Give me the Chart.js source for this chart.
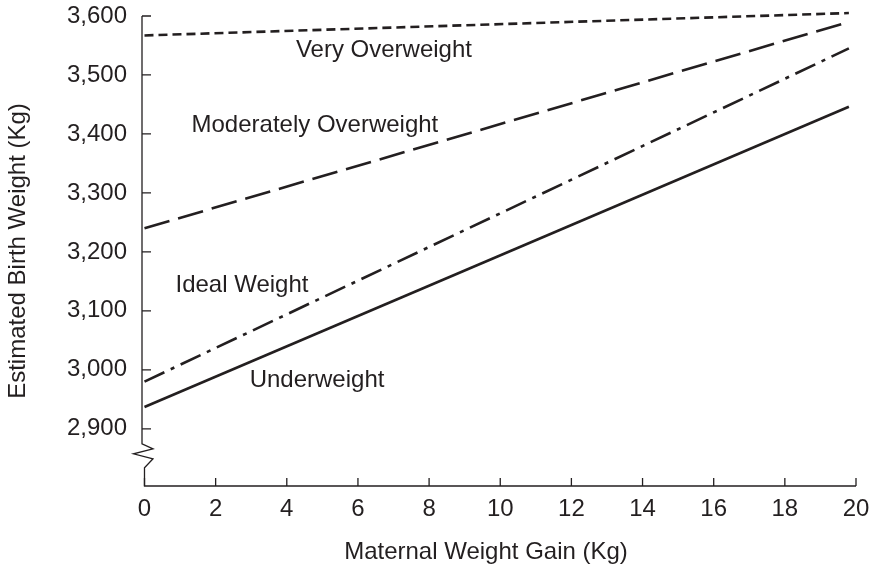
<!DOCTYPE html>
<html>
<head>
<meta charset="utf-8">
<script src="https://cdn.jsdelivr.net/npm/chart.js@4/dist/chart.umd.min.js"></script>
<style>
  html, body { margin: 0; padding: 0; background: #fff; }
  #wrap { width: 873px; height: 566px; }
</style>
</head>
<body>
<div id="wrap"><canvas id="chart" width="873" height="566"></canvas></div>
<script>
// Chart values
const weightGain = [0, 19.8];
const veryOverweight = [3567, 3605];
const moderatelyOverweight = [3240, 3590];
const idealWeight = [2980, 3545];
const underweight = [2937, 3446];

const seriesNames = ['Very Overweight', 'Moderately Overweight', 'Ideal Weight', 'Underweight'];
const xTickValues = [0, 2, 4, 6, 8, 10, 12, 14, 16, 18, 20];
const yTickValues = [2900, 3000, 3100, 3200, 3300, 3400, 3500, 3600];

// where each series name sits (data units: x centre, y baseline)
const labelAnchors = [
    { x: 6.73, y: 3530 },
    { x: 4.79, y: 3403 },
    { x: 2.74, y: 3132 },
    { x: 4.85, y: 2971 }
];

const INK = '#231f20';
const FONT = '"Liberation Sans", Arial, Helvetica, sans-serif';
const FONT_SIZE = 24;

function toPoints(values) {
    return weightGain.map((x, i) => ({ x: x, y: values[i] }));
}

function lineSet(label, values, dash) {
    return {
        label: label,
        data: toPoints(values),
        borderColor: INK,
        borderWidth: 2.6,
        borderDash: dash,
        pointRadius: 0,
        fill: false,
        tension: 0,
        clip: false
    };
}

// Axis lines, inward ticks, the axis break, x title and series names
const axesPlugin = {
    id: 'axesPlugin',
    afterDraw(chart) {
        const ctx = chart.ctx;
        const xs = chart.scales.x;
        const ys = chart.scales.y;
        const area = chart.chartArea;
        const left = area.left;
        const bottom = area.bottom;
        const x0 = xs.getPixelForValue(0);
        const yTop = ys.getPixelForValue(3600);
        const yLow = ys.getPixelForValue(2900);

        ctx.save();
        ctx.strokeStyle = INK;
        ctx.lineWidth = 1.3;
        ctx.setLineDash([]);

        // y axis with break
        ctx.beginPath();
        ctx.moveTo(left, yTop);
        ctx.lineTo(left, yLow + 15);
        ctx.lineTo(left + 11, yLow + 20);
        ctx.lineTo(left - 8.5, yLow + 25);
        ctx.lineTo(left + 11, yLow + 30);
        ctx.lineTo(x0, yLow + 39);
        ctx.lineTo(x0, bottom);
        // x axis
        ctx.lineTo(xs.getPixelForValue(20), bottom);
        ctx.stroke();

        // inward ticks
        ctx.beginPath();
        yTickValues.forEach(v => {
            const p = ys.getPixelForValue(v);
            ctx.moveTo(left, p);
            ctx.lineTo(left + 9, p);
        });
        xTickValues.forEach(v => {
            const p = xs.getPixelForValue(v);
            ctx.moveTo(p, bottom);
            ctx.lineTo(p, bottom - 8);
        });
        ctx.stroke();

        ctx.fillStyle = INK;
        ctx.font = FONT_SIZE + 'px ' + FONT;
        ctx.textAlign = 'center';
        ctx.textBaseline = 'alphabetic';

        // x axis title
        ctx.fillText('Maternal Weight Gain (Kg)', xs.getPixelForValue(9.6), bottom + 73);

        // series names
        seriesNames.forEach((name, i) => {
            const a = labelAnchors[i];
            ctx.fillText(name, xs.getPixelForValue(a.x), ys.getPixelForValue(a.y));
        });
        ctx.restore();
    }
};

const ctx = document.getElementById('chart').getContext('2d');
new Chart(ctx, {
    type: 'line',
    data: {
        datasets: [
            lineSet(seriesNames[0], veryOverweight, [9, 5]),
            lineSet(seriesNames[1], moderatelyOverweight, [26, 9]),
            lineSet(seriesNames[2], idealWeight, [22, 7, 4, 7]),
            lineSet(seriesNames[3], underweight, [])
        ]
    },
    options: {
        responsive: false,
        animation: false,
        layout: { padding: { top: 16, right: 17, bottom: 0, left: 0 } },
        plugins: {
            legend: { display: false },
            tooltip: { enabled: false }
        },
        scales: {
            x: {
                type: 'linear',
                min: -0.07,
                max: 20,
                afterBuildTicks: s => { s.ticks = xTickValues.map(v => ({ value: v })); },
                afterFit: s => { s.height = 80; },
                grid: { display: false },
                border: { display: false },
                ticks: {
                    color: INK,
                    font: { family: FONT, size: FONT_SIZE },
                    padding: 1,
                    maxRotation: 0,
                    autoSkip: false
                }
            },
            y: {
                type: 'linear',
                min: 2803,
                max: 3600,
                afterBuildTicks: s => { s.ticks = yTickValues.map(v => ({ value: v })); },
                afterFit: s => { s.width = 142; s.paddingTop = 0; s.paddingBottom = 0; },
                grid: { display: false },
                border: { display: false },
                ticks: {
                    color: INK,
                    font: { family: FONT, size: FONT_SIZE },
                    padding: 7,
                    autoSkip: false,
                    callback: v => v.toLocaleString('en-US')
                },
                title: {
                    display: true,
                    text: 'Estimated Birth Weight (Kg)',
                    color: INK,
                    font: { family: FONT, size: FONT_SIZE },
                    padding: { top: 4, bottom: 0 }
                }
            }
        }
    },
    plugins: [axesPlugin]
});
</script>
</body>
</html>
